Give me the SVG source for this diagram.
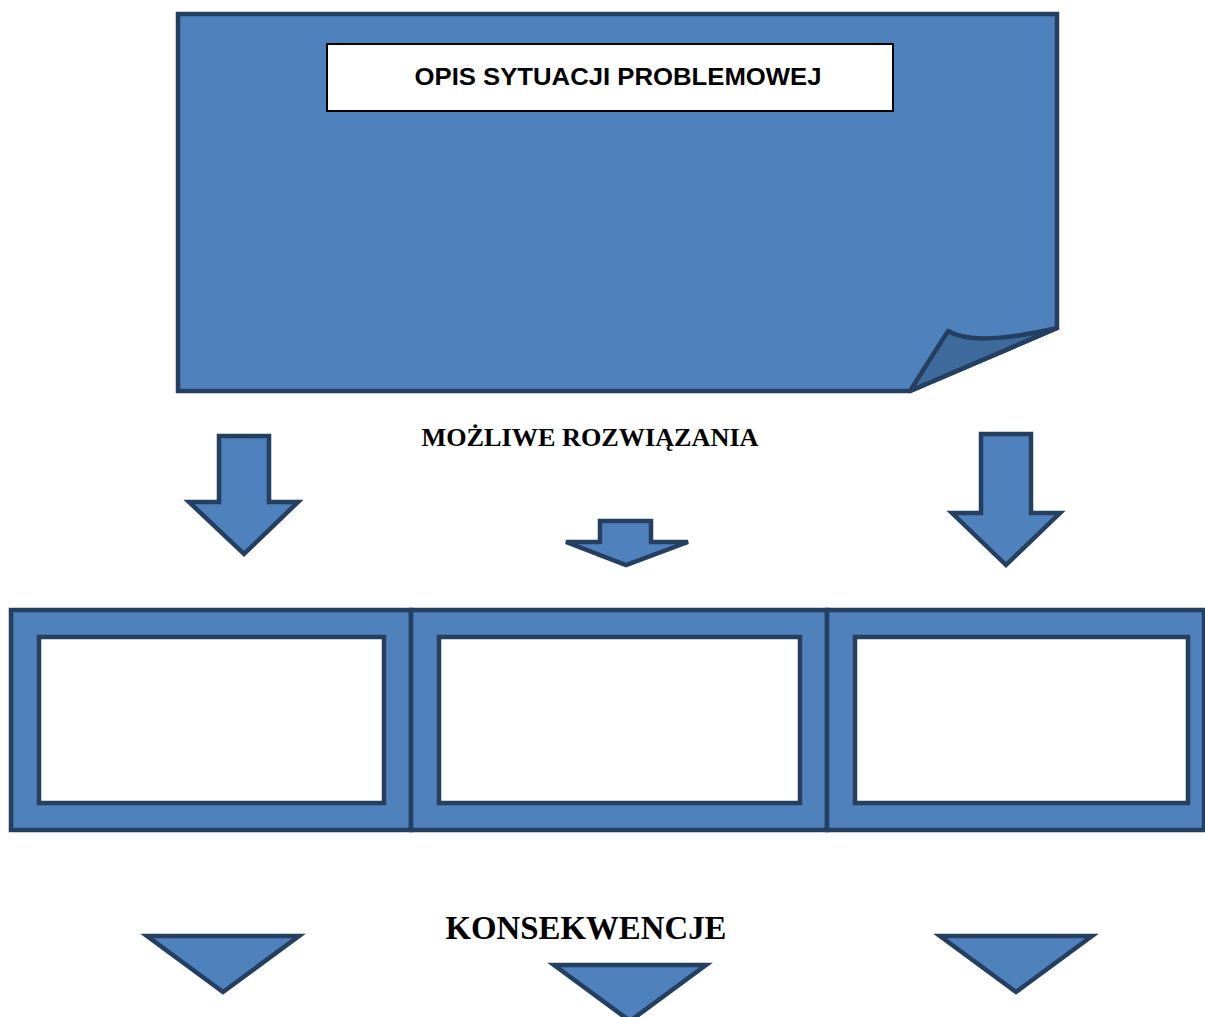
<svg xmlns="http://www.w3.org/2000/svg" width="1205" height="1017" viewBox="0 0 1205 1017">
<style>
.sh{fill:#4F81BD;stroke:#243F60;stroke-width:4.5;stroke-linejoin:miter;stroke-miterlimit:4}
.flap{fill:#3F6A9C;stroke:#243F60;stroke-width:4.5;stroke-linejoin:round}
.box{fill:#ffffff;stroke:#243F60;stroke-width:4.5}
.sans{font-family:"Liberation Sans",Arial,sans-serif;font-weight:bold;fill:#000}
.serif{font-family:"Liberation Serif","Times New Roman",serif;font-weight:bold;fill:#000}
</style>
<rect width="1205" height="1017" fill="#ffffff"/>
<g id="problem">
<path class="sh" d="M178,14 L1057,14 L1057,328 L910,391 L178,391 Z"/>
<path class="flap" d="M910,391 L948,331 C968,343 1010,339 1057,328 Z"/>
<rect x="327" y="44" width="566" height="67" fill="#ffffff" stroke="#000" stroke-width="2"/>
<text class="sans" x="618" y="85" font-size="23.5" text-anchor="middle" textLength="407" lengthAdjust="spacingAndGlyphs">OPIS SYTUACJI PROBLEMOWEJ</text>
</g>
<g id="label-solutions">
<text class="serif" x="590" y="446" font-size="26" text-anchor="middle" textLength="337" lengthAdjust="spacingAndGlyphs">MOŻLIWE ROZWIĄZANIA</text>
</g>
<g id="connectors">
<path class="sh" d="M219,436 L269,436 L269,502 L298,502 L244,554 L189,502 L219,502 Z"/>
<path class="sh" d="M600,521 L651,521 L651,542 L688,542 L626,565 L566,542 L600,542 Z"/>
<path class="sh" d="M981,434 L1031,434 L1031,513 L1060,513 L1006,565 L952,513 L981,513 Z"/>
</g>
<g id="solution1">
<rect class="sh" x="11" y="610" width="400" height="220"/>
<rect class="box" x="39" y="637" width="345" height="166"/>
</g>
<g id="solution2">
<rect class="sh" x="411" y="610" width="416" height="220"/>
<rect class="box" x="439" y="637" width="361" height="166"/>
</g>
<g id="solution3">
<rect class="sh" x="827" y="610" width="377" height="220"/>
<rect class="box" x="855" y="637" width="333" height="166"/>
</g>
<g id="label-consequences">
<text class="serif" x="586" y="939" font-size="33" text-anchor="middle" textLength="281" lengthAdjust="spacingAndGlyphs">KONSEKWENCJE</text>
</g>
<g id="consequence-arrows">
<path class="sh" d="M147,936 L299,936 L223,992 Z"/>
<path class="sh" d="M554,965 L706,965 L630,1021 Z"/>
<path class="sh" d="M940,936 L1092,936 L1016,992 Z"/>
</g>
</svg>
